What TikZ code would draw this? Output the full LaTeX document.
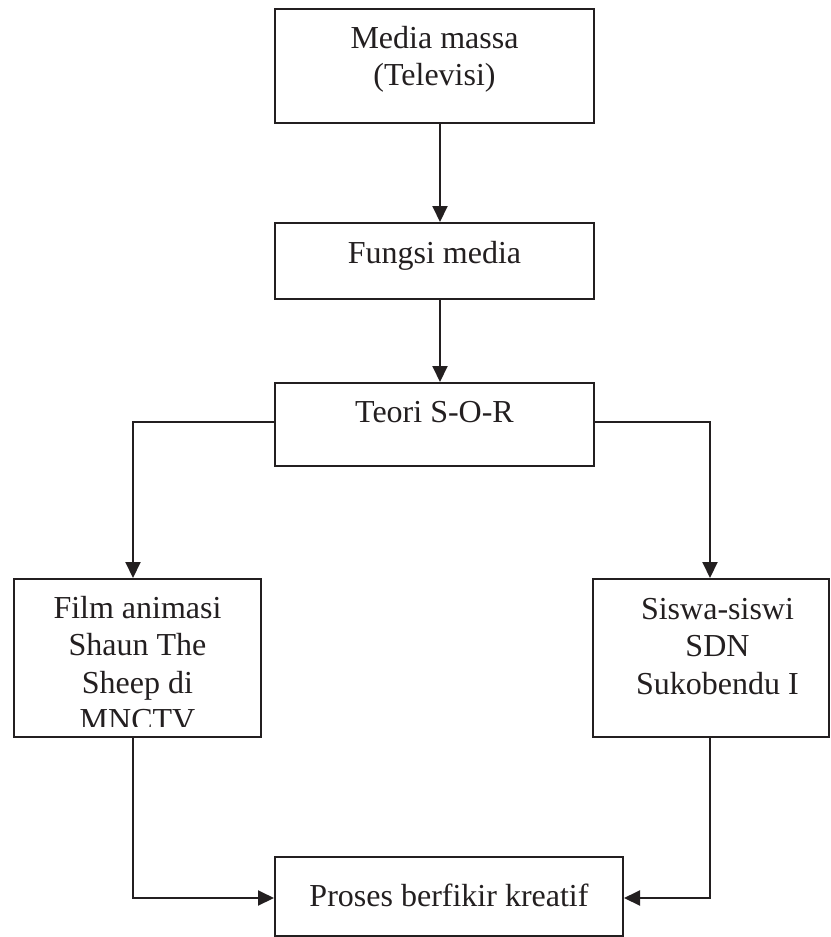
\documentclass[tikz,border=0pt]{standalone}
\usepackage{fontspec}
\setmainfont{Liberation Serif}
\usetikzlibrary{arrows.meta,calc}
\definecolor{ink}{HTML}{231F20}
\begin{document}
\begin{tikzpicture}[x=1pt,y=-1pt,
  box/.style={draw=ink, line width=2pt, inner sep=0pt, rectangle},
  txt/.style={text=ink, font=\fontsize{32}{37.5}\selectfont, align=center, inner sep=0pt, anchor=north},
  arr/.style={draw=ink, line width=2pt, -{Triangle[length=16pt,width=15pt]}},
]
\useasboundingbox (0,0) rectangle (830,937);
\fill[white] (0,0) rectangle (830,937);

\node[box, minimum width=319pt, minimum height=114pt] (b1) at (434.5,66) {};
\node[box, minimum width=319pt, minimum height=76pt] (b2) at (434.5,261) {};
\node[box, minimum width=319pt, minimum height=83pt] (b3) at (434.5,424.5) {};
\node[box, minimum width=247pt, minimum height=158pt] (b4) at (137.5,658) {};
\node[box, minimum width=236pt, minimum height=158pt] (b5) at (711,658) {};
\node[box, minimum width=348pt, minimum height=79pt] (b6) at (449,896.5) {};

\node[txt] (t1) at ([yshift=-13.75pt]b1.north) {Media massa\strut\\(Televisi)\strut};
\node[txt] (t2) at ([yshift=-14.75pt]b2.north) {Fungsi media\strut};
\node[txt] (t3) at ([yshift=-14.25pt]b3.north) {Teori S-O-R\strut};
\begin{scope}
  \clip ([yshift=12pt]b4.south west) rectangle (b4.north east);
  \node[txt] (t4) at ([yshift=-13.75pt]b4.north) {Film animasi\strut\\Shaun The\strut\\Sheep di\strut\\MNCTV\strut};
\end{scope}
\node[txt] (t5) at ([xshift=6.5pt,yshift=-14.75pt]b5.north) {Siswa-siswi\strut\\SDN\strut\\Sukobendu I\strut};
\node[txt] (t6) at ([yshift=-23.75pt]b6.north) {Proses berfikir kreatif\strut};

\draw[arr] ([xshift=5.5pt]b1.south) -- ([xshift=5.5pt]b2.north);
\draw[arr] ([xshift=5.5pt]b2.south) -- ([xshift=5.5pt]b3.north);
\draw[arr] ([yshift=2.5pt]b3.west) -| ([xshift=-4.5pt]b4.north);
\draw[arr] ([yshift=2.5pt]b3.east) -| ([xshift=-1pt]b5.north);
\draw[arr] ([xshift=-4.5pt]b4.south) |- ([yshift=-1.5pt]b6.west);
\draw[arr] ([xshift=-1pt]b5.south) |- ([yshift=-1.5pt]b6.east);
\end{tikzpicture}
\end{document}
